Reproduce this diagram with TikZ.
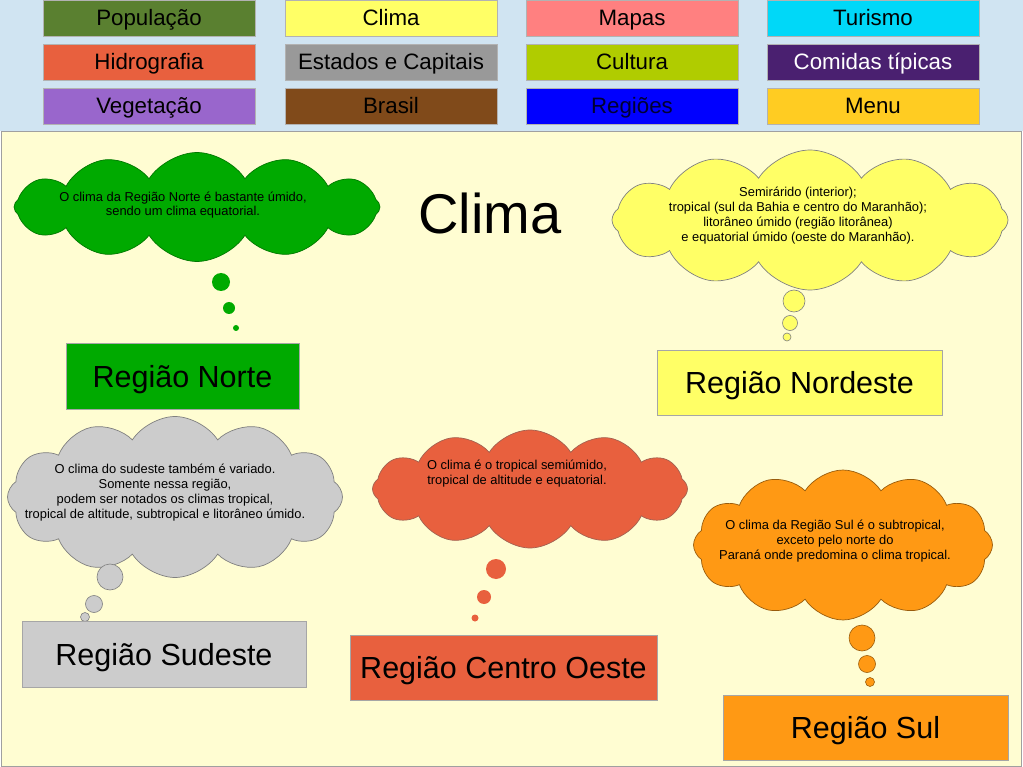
\documentclass[tikz,border=0pt]{standalone}
\usepackage{fontspec}
\setmainfont{Liberation Sans}
\usetikzlibrary{shapes.symbols}
\definecolor{topbg}{RGB}{208,228,242}
\definecolor{mainbg}{RGB}{255,253,210}
\definecolor{frame}{RGB}{160,160,160}
\definecolor{cPop}{RGB}{90,128,48}
\definecolor{cClima}{RGB}{255,255,102}
\definecolor{cMapas}{RGB}{255,128,128}
\definecolor{cTur}{RGB}{0,216,248}
\definecolor{cHid}{RGB}{232,96,62}
\definecolor{cEst}{RGB}{153,153,153}
\definecolor{cCult}{RGB}{176,204,0}
\definecolor{cCom}{RGB}{74,32,112}
\definecolor{cVeg}{RGB}{153,102,204}
\definecolor{cBra}{RGB}{128,74,26}
\definecolor{cReg}{RGB}{0,0,255}
\definecolor{cMenu}{RGB}{255,204,34}
\definecolor{cGreen}{RGB}{0,170,0}
\definecolor{cGray}{RGB}{204,204,204}
\definecolor{cOrange}{RGB}{255,153,20}
\begin{document}
\begin{tikzpicture}[x=1pt,y=-1pt,
  btn/.style={draw=black!30, minimum width=212pt, minimum height=36pt, inner sep=0pt, text height=20pt, text depth=4pt, font=\fontsize{22.3}{26}\selectfont},
  regbox/.style={draw=black!35, minimum height=65pt, inner sep=0pt, text height=28pt, text depth=6pt, font=\fontsize{30.5}{34}\selectfont},
  cloudshape/.style={shape=cloud, cloud puffs=12, cloud puff arc=115, cloud ignores aspect, inner sep=0pt, line width=0.7pt},
  ctext/.style={align=center, font=\fontsize{12.9}{14.8}\selectfont, inner sep=0pt},
  bub/.style={circle, inner sep=0pt, line width=0.6pt}
]
\useasboundingbox (0,0) rectangle (1023,767);
% backgrounds
\fill[topbg] (0,0) rectangle (1023,131);
\draw[frame, fill=mainbg] (1,131) rectangle (1021,766);
% top buttons
\node[btn, fill=cPop] (bpop) at (149,18) {População};
\node[btn, fill=cClima] (bcli) at (391,18) {Clima};
\node[btn, fill=cMapas] (bmap) at (632,18) {Mapas};
\node[btn, fill=cTur] (btur) at (873,18) {Turismo};
\node[btn, fill=cHid] (bhid) at (149,62) {Hidrografia};
\node[btn, fill=cEst] (best) at (391,62) {Estados e Capitais};
\node[btn, fill=cCult] (bcul) at (632,62) {Cultura};
\node[btn, fill=cCom, text=white] (bcom) at (873,62) {Comidas típicas};
\node[btn, fill=cVeg] (bveg) at (149,106) {Vegetação};
\node[btn, fill=cBra] (bbra) at (391,106) {Brasil};
\node[btn, fill=cReg, text=black!80!blue] (breg) at (632,106) {Regiões};
\node[btn, fill=cMenu] (bmen) at (873,106) {Menu};
% title
\node[font=\fontsize{56}{60}\selectfont, inner sep=0pt] (title) at (490,213) {Clima};
% clouds
\node[cloudshape, fill=cGreen, draw=cGreen!70!black, minimum width=366pt, minimum height=109pt] (cn) at (197,207) {};
\node[ctext] (tn) at (183,205) {O clima da Região Norte é bastante úmido,\\sendo um clima equatorial.};
\node[bub, fill=cGreen, minimum size=18pt] (n1) at (221,282) {};
\node[bub, fill=cGreen, minimum size=12pt] (n2) at (229,308) {};
\node[bub, fill=cGreen, minimum size=6pt] (n3) at (236,328) {};

\node[cloudshape, fill=cClima, draw=black!50, minimum width=396pt, minimum height=140pt] (cne) at (810,220) {};
\node[ctext] (tne) at (798,215.5) {Semirárido (interior);\\tropical (sul da Bahia e centro do Maranhão);\\litorâneo úmido (região litorânea)\\e equatorial úmido (oeste do Maranhão).};
\node[bub, fill=cClima, draw=black!50, minimum size=22pt] (ne1) at (794,301) {};
\node[bub, fill=cClima, draw=black!50, minimum size=15pt] (ne2) at (790,323) {};
\node[bub, fill=cClima, draw=black!50, minimum size=8pt] (ne3) at (787,337) {};

\node[cloudshape, fill=cGray, draw=black!50, minimum width=335pt, minimum height=161pt] (cse) at (175,497) {};
\node[ctext] (tse) at (165,492.5) {O clima do sudeste também é variado.\\Somente nessa região,\\podem ser notados os climas tropical,\\tropical de altitude, subtropical e litorâneo úmido.};
\node[bub, fill=cGray, draw=black!50, minimum size=26pt] (se1) at (110,577) {};
\node[bub, fill=cGray, draw=black!50, minimum size=17pt] (se2) at (94,604) {};
\node[bub, fill=cGray, draw=black!50, minimum size=9pt] (se3) at (85,617) {};

\node[cloudshape, fill=cHid, draw=cHid!60!black!80, minimum width=315pt, minimum height=118pt] (cco) at (530,489) {};
\node[ctext] (tco) at (517,473.5) {O clima é o tropical semiúmido,\\tropical de altitude e equatorial.};
\node[bub, fill=cHid, minimum size=20pt] (co1) at (496,569) {};
\node[bub, fill=cHid, minimum size=14pt] (co2) at (484,597) {};
\node[bub, fill=cHid, minimum size=7pt] (co3) at (475,618) {};

\node[cloudshape, fill=cOrange, draw=cOrange!60!black, minimum width=299pt, minimum height=150pt] (csu) at (843,545) {};
\node[ctext] (tsu) at (835,541) {O clima da Região Sul é o subtropical,\\exceto pelo norte do\\Paraná onde predomina o clima tropical.};
\node[bub, fill=cOrange, draw=cOrange!60!black, minimum size=26pt] (su1) at (862,638) {};
\node[bub, fill=cOrange, draw=cOrange!60!black, minimum size=17pt] (su2) at (867,664) {};
\node[bub, fill=cOrange, draw=cOrange!60!black, minimum size=9pt] (su3) at (870,682) {};
% region boxes
\node[regbox, fill=cGreen, minimum width=233pt, minimum height=66pt] (rn) at (182.5,376) {Região Norte};
\node[regbox, fill=cClima, minimum width=285pt] (rne) at (799.5,382.5) {Região Nordeste};
\node[regbox, fill=cGray, minimum width=284pt, minimum height=66pt] (rse) at (164,654) {Região Sudeste};
\node[regbox, fill=cHid, minimum width=307pt] (rco) at (503.5,667.5) {Região Centro Oeste};
\node[regbox, fill=cOrange, minimum width=285pt] (rsu) at (865.5,727.5) {Região Sul};
\end{tikzpicture}
\end{document}
